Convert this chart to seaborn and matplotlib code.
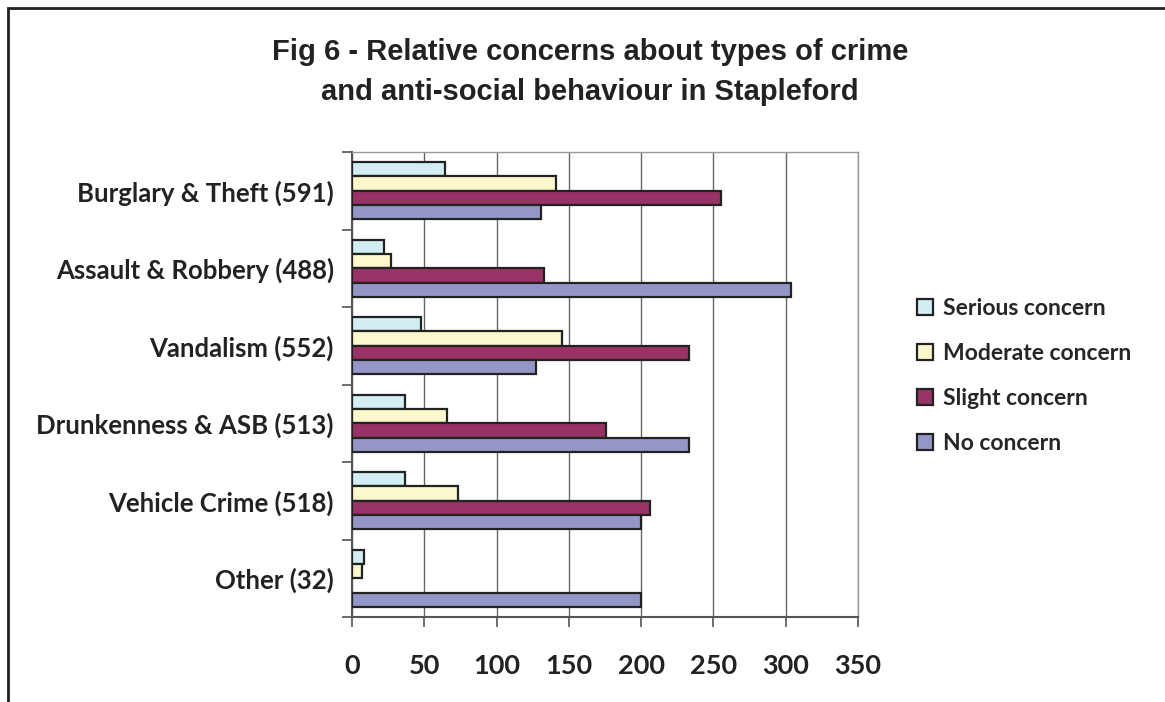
import pandas as pd
import matplotlib
matplotlib.use('Agg')
import matplotlib.pyplot as plt
import seaborn as sns
from matplotlib.patches import Rectangle
from matplotlib.ticker import FixedLocator

# Chart data
categories = ['Burglary & Theft (591)', 'Assault & Robbery (488)', 'Vandalism (552)',
              'Drunkenness & ASB (513)', 'Vehicle Crime (518)', 'Other (32)']
series = ['Serious concern', 'Moderate concern', 'Slight concern', 'No concern']
serious = [64, 22, 48, 37, 37, 8]
moderate = [141, 27, 145, 66, 73, 7]
slight = [255, 133, 233, 176, 206, None]
no_concern = [131, 304, 127, 233, 200, 200]
x_ticks = [0, 50, 100, 150, 200, 250, 300, 350]

colors = ['#D3EEF3', '#FBF9CC', '#993366', '#9596C8']

# long format for seaborn
rows = []
for name, vals in zip(series, [serious, moderate, slight, no_concern]):
    for cat, v in zip(categories, vals):
        rows.append({'Category': cat, 'Concern': name, 'Count': v})
df = pd.DataFrame(rows).dropna()

sns.set_style('white')
plt.rcParams['font.family'] = ['Lato', 'DejaVu Sans']

fig = plt.figure(figsize=(11.65, 7.02), dpi=100)
ax = fig.add_axes([352 / 1165, 1 - 617 / 702, 506 / 1165, 465 / 702])

sns.barplot(data=df, y='Category', x='Count', hue='Concern', order=categories,
            hue_order=series, palette=colors, orient='h', width=0.74,
            edgecolor='#222222', linewidth=1.6, saturation=1, ax=ax, zorder=3)

ax.set_xlim(0, 350)
ax.set_ylim(5.5, -0.5)
ax.set_xticks(x_ticks)
ax.set_xticklabels([str(t) for t in x_ticks], fontsize=19.5, fontweight='bold', color='#222222')
ax.set_yticks(range(len(categories)))
ax.set_yticklabels(categories, fontsize=18.5, fontweight='bold', color='#222222')
ax.set_xlabel('')
ax.set_ylabel('')

# gridlines and ticks
ax.xaxis.grid(True, color='#666666', linewidth=1.0, zorder=0)
ax.set_axisbelow(True)
ax.yaxis.set_minor_locator(FixedLocator([i - 0.5 for i in range(len(categories) + 1)]))
ax.tick_params(axis='y', which='major', length=0, pad=13)
ax.tick_params(axis='y', which='minor', length=7, width=1.2, color='#555555', left=True)
ax.tick_params(axis='x', which='major', length=7, width=1.2, color='#555555', bottom=True, pad=20)

for side in ['left', 'bottom']:
    ax.spines[side].set_color('#555555')
    ax.spines[side].set_linewidth(1.5)
for side in ['top', 'right']:
    ax.spines[side].set_color('#999999')
    ax.spines[side].set_linewidth(1.0)

# legend
ax.legend(loc='center left', bbox_to_anchor=(896 / 1165, 1 - 376 / 702),
          bbox_transform=fig.transFigure, frameon=False,
          prop={'family': 'Lato', 'weight': 'bold', 'size': 16.5},
          handlelength=0.7, handleheight=0.7, handletextpad=0.45, labelspacing=1.05)

# title
fig.text(590 / 1165, 1 - 72 / 702, 'Fig 6 - Relative concerns about types of crime\nand anti-social behaviour in Stapleford',
         ha='center', va='center', fontsize=21, fontweight='bold', family='Liberation Sans',
         color='#222222', linespacing=1.55)

# outer chart border (left and top visible)
fig.patches.append(Rectangle((8 / 1165, -0.1), 1.2, 1 - 8 / 702 + 0.1, transform=fig.transFigure,
                             fill=False, edgecolor='#222222', linewidth=2.0))

fig.savefig('out.png', dpi=100)
